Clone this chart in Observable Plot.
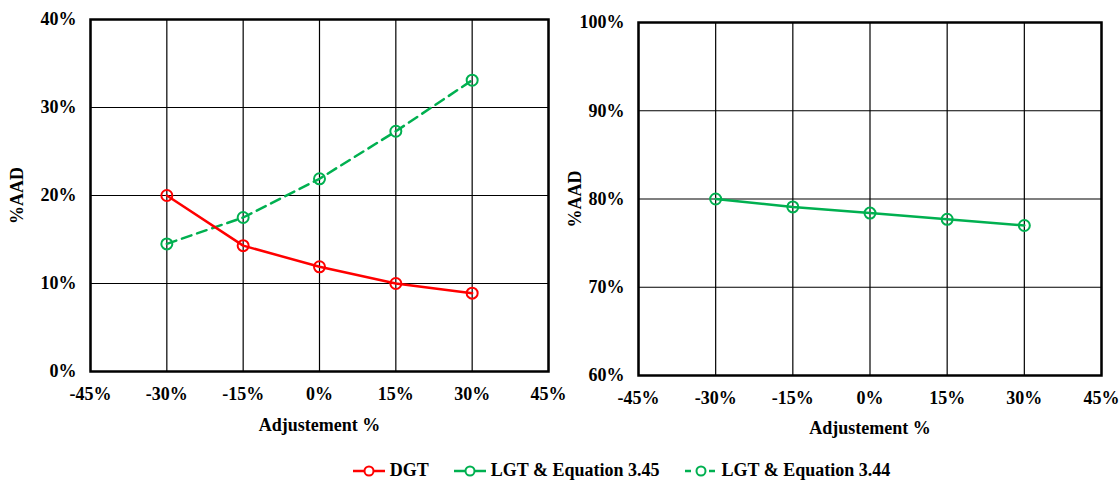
<!DOCTYPE html>
<html>
<head>
<meta charset="utf-8">
<script src="https://cdn.jsdelivr.net/npm/d3@7"></script>
<script src="https://cdn.jsdelivr.net/npm/@observablehq/plot@0.6"></script>
<style>
  html, body { margin: 0; padding: 0; background: #fff; }
  #wrap { position: relative; width: 1120px; height: 482px; overflow: hidden; font-family: "Liberation Serif", "Times New Roman", serif; font-weight: bold; background: #fff; }
  #left { position: absolute; left: 0; top: 0; }
  #right { position: absolute; left: 555px; top: 0; }
  #legend { position: absolute; left: 0; top: 460px; width: 1120px; display: flex; justify-content: center; gap: 24px; font-size: 18px; color: #000; padding-left: 122px; box-sizing: border-box; }
  .item { display: flex; align-items: center; gap: 4px; white-space: nowrap; }
  svg text { font-family: "Liberation Serif", "Times New Roman", serif; }
</style>
</head>
<body>
<div id="wrap">
  <div id="left"></div>
  <div id="right"></div>
  <div id="legend"></div>
</div>
<script>
const adjustments = [-30, -15, 0, 15, 30];
const dgt = [20.0, 14.3, 11.9, 10.0, 8.9];
const lgt344 = [14.5, 17.5, 21.9, 27.3, 33.1];
const lgt345 = [80.0, 79.1, 78.4, 77.7, 77.0];
const xTicks = [-45, -30, -15, 0, 15, 30, 45];
const yTicksLeft = [0, 10, 20, 30, 40];
const yTicksRight = [60, 70, 80, 90, 100];
const seriesNames = ["DGT", "LGT & Equation 3.45", "LGT & Equation 3.44"];
const seriesColors = ["#FF0000", "#00B050", "#00B050"];
const seriesDash = [null, null, "10,6"];

const pct = d => d + "%";

const dgtData = adjustments.map((x, i) => ({x, y: dgt[i]}));
const l344Data = adjustments.map((x, i) => ({x, y: lgt344[i]}));
const l345Data = adjustments.map((x, i) => ({x, y: lgt345[i]}));

function panel({width, height, marginLeft, marginRight, marginTop, marginBottom, yDomain, yTicks, xLabelOffset, yLabelOffset, marks}) {
  return Plot.plot({
    width, height, marginLeft, marginRight, marginTop, marginBottom,
    style: {fontFamily: "Liberation Serif, Times New Roman, serif", fontSize: "18px", fontWeight: "bold", color: "#000", background: "transparent", overflow: "visible"},
    x: {domain: [-45, 45]},
    y: {domain: yDomain},
    marks: [
      Plot.gridX(xTicks, {stroke: "#000", strokeOpacity: 1, strokeWidth: 1.2}),
      Plot.gridY(yTicks, {stroke: "#000", strokeOpacity: 1, strokeWidth: 1.2}),
      Plot.frame({stroke: "#000", strokeWidth: 2.5}),
      Plot.axisX({ticks: xTicks, tickFormat: pct, tickSize: 0, tickPadding: 16, label: "Adjustement %", labelAnchor: "center", labelArrow: "none", labelOffset: xLabelOffset, fontWeight: "bold"}),
      Plot.axisY({ticks: yTicks, tickFormat: pct, tickSize: 0, tickPadding: 14, label: "%AAD", labelAnchor: "center", labelArrow: "none", labelOffset: yLabelOffset, fontWeight: "bold"}),
      ...marks
    ]
  });
}

const left = panel({
  width: 590, height: 440, marginLeft: 90, marginRight: 42, marginTop: 19, marginBottom: 69,
  yDomain: [0, 40], yTicks: yTicksLeft, xLabelOffset: 59, yLabelOffset: 80,
  marks: [
    Plot.line(l344Data, {x: "x", y: "y", stroke: seriesColors[2], strokeWidth: 2.5, strokeDasharray: seriesDash[2]}),
    Plot.dot(l344Data, {x: "x", y: "y", r: 5.5, stroke: seriesColors[2], strokeWidth: 2, fill: "none"}),
    Plot.line(dgtData, {x: "x", y: "y", stroke: seriesColors[0], strokeWidth: 2.5}),
    Plot.dot(dgtData, {x: "x", y: "y", r: 5.5, stroke: seriesColors[0], strokeWidth: 2, fill: "none"})
  ]
});
document.getElementById("left").appendChild(left);

const right = panel({
  width: 565, height: 445, marginLeft: 83, marginRight: 19, marginTop: 22, marginBottom: 70,
  yDomain: [60, 100], yTicks: yTicksRight, xLabelOffset: 58, yLabelOffset: 70,
  marks: [
    Plot.line(l345Data, {x: "x", y: "y", stroke: seriesColors[1], strokeWidth: 2.5}),
    Plot.dot(l345Data, {x: "x", y: "y", r: 5.5, stroke: seriesColors[1], strokeWidth: 2, fill: "none"})
  ]
});
document.getElementById("right").appendChild(right);

// legend
const legend = d3.select("#legend");
seriesNames.forEach((name, i) => {
  const item = legend.append("div").attr("class", "item");
  const sw = item.append("svg").attr("width", 34).attr("height", 14);
  sw.append("line").attr("x1", 1).attr("x2", 33).attr("y1", 7).attr("y2", 7)
    .attr("stroke", seriesColors[i]).attr("stroke-width", 2.5)
    .attr("stroke-dasharray", seriesDash[i] ? "6,6" : null);
  sw.append("circle").attr("cx", 17).attr("cy", 7).attr("r", 4.5)
    .attr("fill", "#fff").attr("stroke", seriesColors[i]).attr("stroke-width", 2);
  item.append("span").text(name);
});
</script>
</body>
</html>
